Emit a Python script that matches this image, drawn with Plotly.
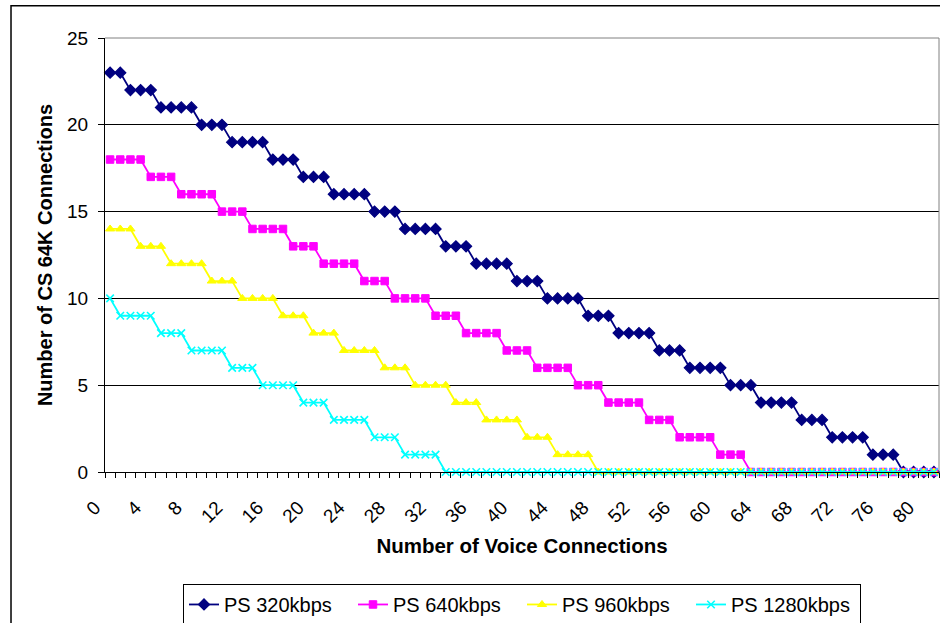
import plotly.graph_objects as go

voice = list(range(82))

ps_320 = [23, 23, 22, 22, 22, 21, 21, 21, 21, 20, 20, 20, 19, 19, 19, 19, 18, 18, 18,
          17, 17, 17, 16, 16, 16, 16, 15, 15, 15, 14, 14, 14, 14, 13, 13, 13, 12, 12, 12, 12,
          11, 11, 11, 10, 10, 10, 10, 9, 9, 9, 8, 8, 8, 8, 7, 7, 7, 6, 6, 6, 6, 5, 5, 5,
          4, 4, 4, 4, 3, 3, 3, 2, 2, 2, 2, 1, 1, 1, 0, 0, 0, 0]
ps_640 = [18, 18, 18, 18, 17, 17, 17, 16, 16, 16, 16, 15, 15, 15, 14, 14, 14, 14, 13, 13, 13,
          12, 12, 12, 12, 11, 11, 11, 10, 10, 10, 10, 9, 9, 9, 8, 8, 8, 8, 7, 7, 7,
          6, 6, 6, 6, 5, 5, 5, 4, 4, 4, 4, 3, 3, 3, 2, 2, 2, 2, 1, 1, 1,
          0, 0, 0, 0, 0, 0, 0, 0, 0, 0, 0, 0, 0, 0, 0, 0, 0, 0, 0, 0]
ps_960 = [14, 14, 14, 13, 13, 13, 12, 12, 12, 12, 11, 11, 11, 10, 10, 10, 10, 9, 9, 9,
          8, 8, 8, 7, 7, 7, 7, 6, 6, 6, 5, 5, 5, 5, 4, 4, 4, 3, 3, 3, 3, 2, 2, 2, 1, 1, 1, 1,
          0, 0, 0, 0, 0, 0, 0, 0, 0, 0, 0, 0, 0, 0, 0, 0, 0, 0, 0, 0, 0, 0, 0, 0, 0, 0, 0, 0,
          0, 0, 0, 0, 0, 0]
ps_1280 = [10, 9, 9, 9, 9, 8, 8, 8, 7, 7, 7, 7, 6, 6, 6, 5, 5, 5, 5, 4, 4, 4, 3, 3, 3, 3,
           2, 2, 2, 1, 1, 1, 1] + [0] * 49

x_tick_labels = [str(v) for v in range(0, 81, 4)]
y_tick_vals = [0, 5, 10, 15, 20, 25]

series = [
    ("PS 320kbps", ps_320, "#000080", "diamond", 8.5, 1.2),
    ("PS 640kbps", ps_640, "#FF00FF", "square", 7.5, 1),
    ("PS 960kbps", ps_960, "#FFFF00", "triangle-up", 8, 1),
    ("PS 1280kbps", ps_1280, "#00FFFF", "x-thin-open", 7.5, 1.6),
]

FONT = "Liberation Sans, Arial, sans-serif"

fig = go.Figure()
for name, vals, color, sym, size, lw in series:
    fig.add_trace(go.Scatter(
        x=voice, y=vals, name=name, mode="lines+markers",
        line=dict(color=color, width=1.8),
        marker=dict(symbol=sym, size=size, color=color,
                    line=dict(color=color, width=lw)),
        cliponaxis=False,
    ))

fig.update_layout(
    width=940, height=623,
    margin=dict(l=105, r=1, t=38, b=151, autoexpand=False),
    paper_bgcolor="white", plot_bgcolor="white",
    font=dict(family=FONT, size=19, color="black"),
    showlegend=True,
    legend=dict(
        orientation="h", x=0.5, xanchor="center", y=-0.258, yanchor="top",
        bordercolor="black", borderwidth=1, bgcolor="white",
        font=dict(family=FONT, size=20, color="black"),
        entrywidth=124, entrywidthmode="pixels",
    ),
    xaxis=dict(
        range=[-0.5, 81.5],
        tickmode="array",
        tickvals=[int(t) for t in x_tick_labels],
        ticktext=x_tick_labels,
        tickangle=-45,
        ticks="",
        ticklabelshift=-15,
        ticklabelstandoff=16,
        showline=True, linecolor="black", linewidth=1,
        showgrid=False, zeroline=False,
        minor=dict(tickmode="linear", tick0=-0.5, dtick=1, ticks="outside",
                   ticklen=5, tickcolor="black", tickwidth=1, showgrid=False),
        title=dict(text="<b>Number of Voice Connections</b>",
                   font=dict(family=FONT, size=20.5), standoff=12),
        automargin=False,
    ),
    yaxis=dict(
        range=[0, 25],
        tickmode="array", tickvals=y_tick_vals,
        ticks="outside", ticklen=6, tickcolor="black",
        ticklabelstandoff=6,
        showline=True, linecolor="black", linewidth=1,
        showgrid=True, gridcolor="black", gridwidth=1,
        zeroline=False,
        title=dict(text="<b>Number of CS 64K Connections</b>",
                   font=dict(family=FONT, size=20), standoff=9),
        automargin=False,
    ),
    shapes=[
        dict(type="line", xref="paper", yref="paper", x0=0, x1=1, y0=1, y1=1,
             line=dict(color="#808080", width=1)),
        dict(type="line", xref="paper", yref="paper", x0=1, x1=1, y0=0, y1=1,
             line=dict(color="#808080", width=1)),
        dict(type="rect", xref="paper", yref="paper", x0=-0.1127, x1=1.2,
             y0=-0.6, y1=1.0744, line=dict(color="black", width=1.5),
             fillcolor="rgba(0,0,0,0)"),
    ],
)

fig.write_html("out.html", config={"displayModeBar": False},
               post_script="document.body.style.margin='0';")
